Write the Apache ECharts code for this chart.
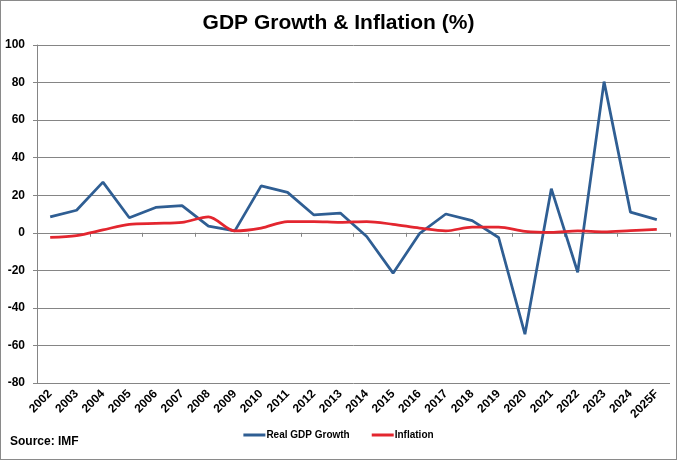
<!DOCTYPE html>
<html>
<head>
<meta charset="utf-8">
<script src="https://cdn.jsdelivr.net/npm/echarts@6/dist/echarts.min.js"></script>
<style>
  html, body { margin: 0; padding: 0; background: #fff; }
  #chart { width: 675px; height: 458px; border: 1px solid #8a8a8a; }
</style>
</head>
<body>
<div id="chart"></div>
<script>
// 年份（类目轴）
const years = ['2002', '2003', '2004', '2005', '2006', '2007', '2008', '2009', '2010', '2011', '2012', '2013',
  '2014', '2015', '2016', '2017', '2018', '2019', '2020', '2021', '2022', '2023', '2024', '2025F'];

// 实际 GDP 增长（%）
const gdpGrowth = [8.5, 12, 27, 8, 13.5, 14.5, 3.5, 1, 25, 21.5, 9.5, 10.5,
  -2, -21.5, -0.5, 10, 6.5, -2.5, -54, 23.5, -21, 80.5, 11, 7];

// 通胀（%）
const inflation = [-2.5, -1.5, 1.5, 4.5, 5, 5.5, 8.5, 1, 2.5, 6, 6, 5.5,
  6, 4.5, 2.5, 1, 3, 3, 0.8, 0.2, 1, 0.5, 1.2, 1.8];

const blue = '#2F5E93';
const red = '#E3262F';
const grey = '#858585';
const font = 'Liberation Sans';

const chart = echarts.init(document.getElementById('chart'), null, { renderer: 'canvas' });

chart.setOption({
  animation: false,
  backgroundColor: '#fff',
  title: {
    text: 'GDP Growth & Inflation (%)',
    left: 'center',
    top: 7,
    textStyle: { fontFamily: font, fontWeight: 'bold', fontSize: 21, color: '#000' },
  },
  graphic: [
    {
      type: 'text',
      left: 9,
      top: 435,
      style: { text: 'Source: IMF', fontFamily: font, fontWeight: 'bold', fontSize: 12, fill: '#000' },
    },
  ],
  legend: {
    bottom: 14,
    left: 'center',
    icon: 'rect',
    itemWidth: 22,
    itemHeight: 3,
    itemGap: 22,
    textStyle: { fontFamily: font, fontWeight: 'bold', fontSize: 10, color: '#000', padding: [0, 0, 0, -4] },
    data: ['Real GDP Growth', 'Inflation'],
  },
  grid: { left: 36, right: 6, top: 44, bottom: 76 },
  xAxis: [
    {
      type: 'category',
      data: years,
      boundaryGap: true,
      position: 'bottom',
      axisLine: { show: false, onZero: false },
      axisTick: { show: false },
      axisLabel: {
        rotate: 45,
        interval: 0,
        margin: 9,
        fontFamily: font,
        fontWeight: 'bold',
        fontSize: 12,
        color: '#000',
      },
      splitLine: { show: false },
    },
    {
      // 零线上的类目轴（只画线和刻度）
      type: 'category',
      data: years,
      boundaryGap: true,
      position: 'bottom',
      axisLine: { show: true, onZero: true, lineStyle: { color: grey, width: 1 } },
      axisTick: { show: true, length: 4, lineStyle: { color: grey } },
      axisLabel: { show: false },
      splitLine: { show: false },
    },
  ],
  yAxis: {
    type: 'value',
    min: -80,
    max: 100,
    interval: 20,
    axisLine: { show: true, lineStyle: { color: grey } },
    axisTick: { show: true, length: 4, lineStyle: { color: grey } },
    axisLabel: { margin: 12, fontFamily: font, fontWeight: 'bold', fontSize: 12, color: '#000' },
    splitLine: { show: true, lineStyle: { color: grey, width: 1 } },
  },
  series: [
    {
      name: 'Real GDP Growth',
      type: 'line',
      xAxisIndex: 0,
      data: gdpGrowth,
      showSymbol: false,
      color: blue,
      lineStyle: { color: blue, width: 2.75 },
      z: 3,
    },
    {
      name: 'Inflation',
      type: 'line',
      xAxisIndex: 0,
      data: inflation,
      showSymbol: false,
      smooth: 0.3,
      color: red,
      lineStyle: { color: red, width: 2.75 },
      z: 4,
    },
  ],
});
</script>
</body>
</html>
